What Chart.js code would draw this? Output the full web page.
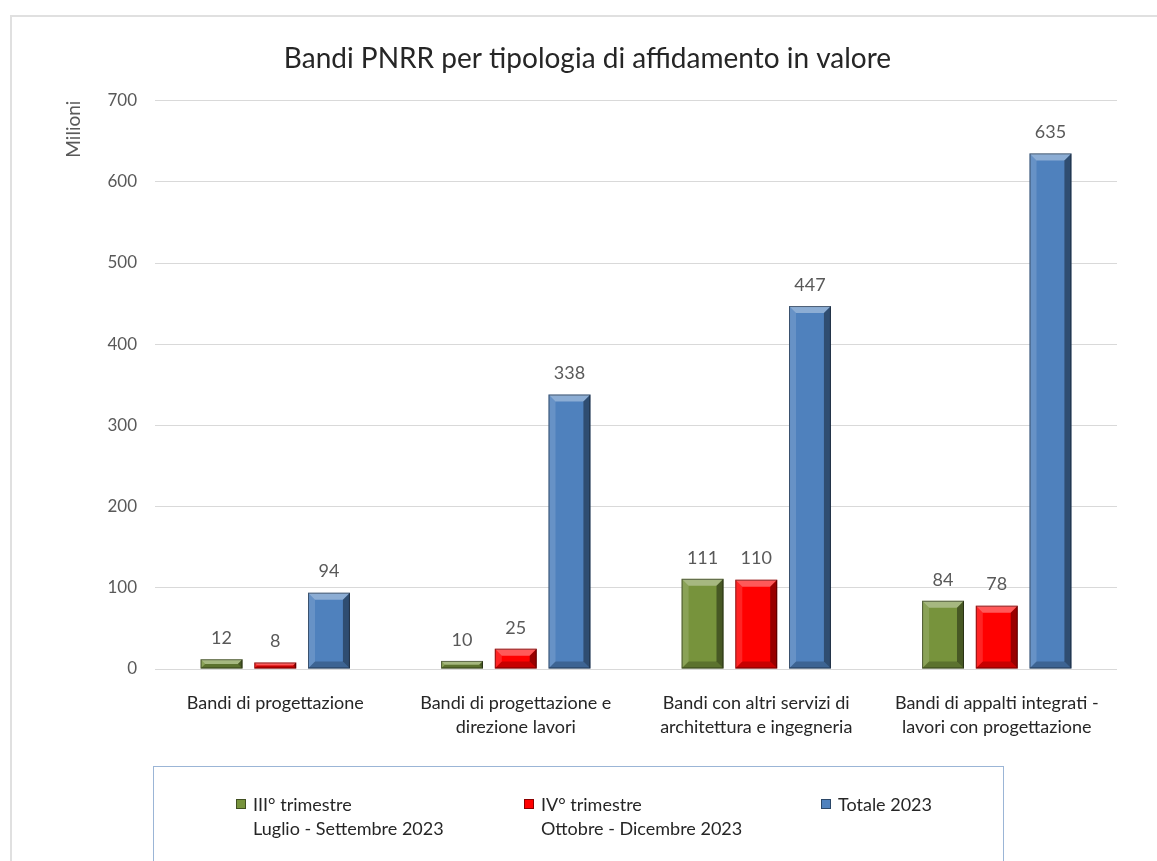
<!DOCTYPE html>
<html>
<head>
<meta charset="utf-8">
<script src="https://cdn.jsdelivr.net/npm/chart.js@4.4.1/dist/chart.umd.min.js"></script>
<style>
  html, body {
    margin: 0;
    padding: 0;
    background: #fff;
    overflow: hidden;
    font-family: Lato, 'Noto Sans', sans-serif;
  }
  .frame {
    position: absolute;
    left: 10px;
    top: 15px;
    width: 1170px;
    height: 900px;
    border: 2px solid #e0e0e0;
    box-sizing: border-box;
  }
  #chart {
    position: absolute;
    left: 0;
    top: 0;
  }
  .legend-box {
    position: absolute;
    left: 153px;
    top: 766px;
    width: 851px;
    height: 140px;
    border: 1px solid #9bb5d6;
    box-sizing: border-box;
  }
  .legend-item {
    position: absolute;
    top: 25px;
    font-size: 18px;
    line-height: 24px;
    color: #262626;
  }
  .legend-item .swatch {
    position: absolute;
    left: -17px;
    top: 7px;
    width: 10px;
    height: 10px;
    box-sizing: border-box;
    border: 1px solid rgba(0,0,0,0.45);
  }
</style>
</head>
<body>
<div class="frame"></div>
<canvas id="chart" width="1157" height="861"></canvas>
<div class="legend-box" id="legend"></div>
<script>
const categories = [
  'Bandi di progettazione',
  ['Bandi di progettazione e', 'direzione lavori'],
  ['Bandi con altri servizi di', 'architettura e ingegneria'],
  ['Bandi di appalti integrati -', 'lavori con progettazione']
];
const seriesNames = [
  ['III° trimestre', 'Luglio - Settembre 2023'],
  ['IV° trimestre', 'Ottobre - Dicembre 2023'],
  ['Totale 2023']
];
const terzoTrimestre = [12, 10, 111, 84];
const quartoTrimestre = [8, 25, 110, 78];
const totale2023 = [94, 338, 447, 635];
const seriesColors = ['#77933c', '#ff0000', '#4f81bd'];
const yTicks = [0, 100, 200, 300, 400, 500, 600, 700];

const FONT = 'Lato, "Noto Sans", sans-serif';

// bevel overlay on every bar, positions taken from the bar elements
function poly(ctx, pts, fill) {
  ctx.beginPath();
  ctx.moveTo(pts[0][0], pts[0][1]);
  for (let i = 1; i < pts.length; i++) ctx.lineTo(pts[i][0], pts[i][1]);
  ctx.closePath();
  ctx.fillStyle = fill;
  ctx.fill();
}

const bevelPlugin = {
  id: 'bevel',
  afterDatasetsDraw(chart) {
    const ctx = chart.ctx;
    ctx.save();
    chart.data.datasets.forEach((ds, i) => {
      chart.getDatasetMeta(i).data.forEach(bar => {
        const { x, y, base, width } = bar.getProps(['x', 'y', 'base', 'width'], true);
        const l = x - width / 2, r = x + width / 2, t = y, b = base;
        const h = b - t;
        const e = Math.min(7, h / 2);
        poly(ctx, [[l, t], [l + e, t + e], [l + e, b - e], [l, b]], 'rgba(255,255,255,0.14)');
        poly(ctx, [[l, t], [r, t], [r - e, t + e], [l + e, t + e]], 'rgba(255,255,255,0.35)');
        poly(ctx, [[r, t], [r, b], [r - e, b - e], [r - e, t + e]], 'rgba(0,0,0,0.40)');
        poly(ctx, [[l, b], [l + e, b - e], [r - e, b - e], [r, b]], 'rgba(0,0,0,0.22)');
        ctx.strokeStyle = 'rgba(0,0,0,0.45)';
        ctx.lineWidth = 1;
        ctx.strokeRect(l + 0.5, t + 0.5, width - 1, Math.max(h - 1, 0));
      });
    });
    ctx.restore();
  }
};

const valueLabels = {
  id: 'valueLabels',
  afterDatasetsDraw(chart) {
    const ctx = chart.ctx;
    ctx.save();
    ctx.font = '18px ' + FONT;
    ctx.fillStyle = '#595959';
    ctx.textAlign = 'center';
    ctx.textBaseline = 'middle';
    chart.data.datasets.forEach((ds, i) => {
      chart.getDatasetMeta(i).data.forEach((bar, j) => {
        ctx.fillText(ds.data[j], bar.x, bar.y - 21);
      });
    });
    ctx.restore();
  }
};

const seriesData = [terzoTrimestre, quartoTrimestre, totale2023];

new Chart(document.getElementById('chart'), {
  type: 'bar',
  data: {
    labels: categories,
    datasets: seriesData.map((d, i) => ({
      label: seriesNames[i].join(' '),
      data: d,
      backgroundColor: seriesColors[i],
      borderWidth: 0,
      categoryPercentage: 0.67,
      barPercentage: 0.78
    }))
  },
  options: {
    responsive: false,
    animation: false,
    layout: { padding: { left: 58, right: 40, top: 20, bottom: 0 } },
    plugins: {
      legend: { display: false },
      tooltip: { enabled: false },
      title: {
        display: true,
        text: 'Bandi PNRR per tipologia di affidamento in valore',
        color: '#262626',
        font: { family: FONT, size: 28, weight: 'normal' },
        padding: { top: 22, bottom: 25 }
      }
    },
    scales: {
      x: {
        grid: { display: false },
        border: { display: false },
        ticks: {
          color: '#262626',
          padding: 14,
          font: { family: FONT, size: 18, lineHeight: 1.333 }
        },
        afterFit(scale) { scale.height = 192; }
      },
      y: {
        min: 0,
        max: 700,
        afterBuildTicks(scale) { scale.ticks = yTicks.map(v => ({ value: v })); },
        grid: { color: '#d9d9d9', lineWidth: 1, drawTicks: false },
        border: { display: false },
        ticks: {
          color: '#595959',
          padding: 18,
          font: { family: FONT, size: 17 }
        },
        title: {
          display: true,
          text: 'Milioni',
          align: 'end',
          color: '#595959',
          font: { family: FONT, size: 19 }
        },
        afterFit(scale) { scale.width = 97; }
      }
    }
  },
  plugins: [bevelPlugin, valueLabels]
});

// legend in its own box below the chart
const legendPos = [99, 387, 684];
const legendEl = document.getElementById('legend');
seriesNames.forEach((lines, i) => {
  const item = document.createElement('div');
  item.className = 'legend-item';
  item.style.left = legendPos[i] + 'px';
  const sw = document.createElement('span');
  sw.className = 'swatch';
  sw.style.background = seriesColors[i];
  item.appendChild(sw);
  lines.forEach(t => {
    const line = document.createElement('div');
    line.textContent = t;
    item.appendChild(line);
  });
  legendEl.appendChild(item);
});
</script>
</body>
</html>
